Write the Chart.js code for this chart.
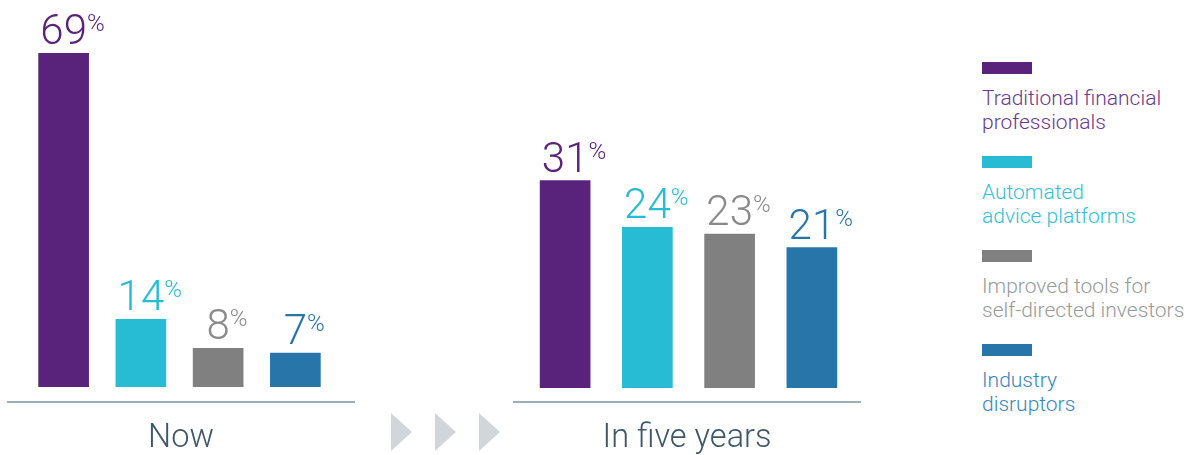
<!DOCTYPE html>
<html lang="en">
<head>
  <meta charset="UTF-8">
  <title>Now vs in five years</title>
  <script src="https://cdn.jsdelivr.net/npm/chart.js"></script>
  <style>
    body {
      margin: 0;
      width: 1190px;
      height: 455px;
      background: #fff;
      font-family: Roboto, "Noto Sans", sans-serif;
      font-weight: 300;
      position: relative;
      overflow: hidden;
    }
    .panel {
      position: absolute;
      top: 0;
      width: 348px;
      height: 455px;
    }
    .baseline {
      position: absolute;
      left: 0;
      right: 0;
      top: 401px;
      border-top: 2px solid #9eadb7;
    }
    .period {
      position: absolute;
      left: 0;
      right: 0;
      top: 417px;
      text-align: center;
      font-size: 32.5px;
      color: #3f5767;
    }
    .arrow {
      position: absolute;
      top: 413px;
      width: 21px;
      height: 38px;
      background: #d1d6db;
      clip-path: polygon(0 0, 100% 50%, 0 100%);
    }
    #legend {
      position: absolute;
      left: 982px;
      top: 62px;
    }
    .item { margin-bottom: 22px; }
    .swatch { width: 50px; height: 12px; margin-bottom: 12px; }
    .text { font-size: 21px; line-height: 24px; width: 210px; }
  </style>
</head>
<body>
  <div class="panel" id="p0" style="left:7px">
    <canvas id="chart-now"></canvas>
    <div class="baseline"></div>
    <div class="period" id="label0"></div>
  </div>
  <div class="arrow" style="left:391px"></div>
  <div class="arrow" style="left:435px"></div>
  <div class="arrow" style="left:479px"></div>
  <div class="panel" id="p1" style="left:513px">
    <canvas id="chart-five"></canvas>
    <div class="baseline"></div>
    <div class="period" id="label1"></div>
  </div>
  <div id="legend"></div>

  <script>
    const categories = ['Traditional financial professionals', 'Automated advice platforms', 'Improved tools for self-directed investors', 'Industry disruptors'];
    const legendLines = [['Traditional financial', 'professionals'], ['Automated', 'advice platforms'], ['Improved tools for', 'self-directed investors'], ['Industry', 'disruptors']];
    const periods = ['Now', 'In five years'];
    const nowValues = [69, 14, 8, 7];
    const fiveYearValues = [31, 24, 23, 21];

    const barColors = ['#5a237b', '#27bbd4', '#808080', '#2876a9'];
    const labelColors = ['#5a237b', '#27bbd4', '#8a8a8a', '#2876a9'];
    const legendColors = ['#6a3a8c', '#33bfd8', '#9a9a9a', '#3a86b9'];

    // percent labels above each bar: big number + small superscript %
    const valueLabels = {
      id: 'valueLabels',
      afterDatasetsDraw(chart) {
        const ctx = chart.ctx;
        const meta = chart.getDatasetMeta(0);
        const data = chart.data.datasets[0].data;
        meta.data.forEach(function(bar, i) {
          const txt = String(data[i]);
          const base = bar.y - 9;
          ctx.save();
          ctx.fillStyle = labelColors[i];
          ctx.font = '300 42px Roboto';
          ctx.textBaseline = 'alphabetic';
          ctx.textAlign = 'center';
          ctx.fillText(txt, bar.x, base);
          const w = ctx.measureText(txt).width;
          ctx.font = '300 24px Roboto';
          ctx.textAlign = 'left';
          ctx.fillText('%', bar.x + w / 2, base - 13);
          ctx.restore();
        });
      }
    };

    function makeChart(id, values, maxY, padding) {
      return new Chart(document.getElementById(id), {
        type: 'bar',
        data: {
          labels: categories,
          datasets: [{
            data: values,
            backgroundColor: barColors,
            borderWidth: 0,
            barThickness: 50
          }]
        },
        options: {
          responsive: true,
          maintainAspectRatio: false,
          animation: false,
          layout: { padding: padding },
          plugins: { legend: { display: false }, tooltip: { enabled: false } },
          scales: {
            x: { display: false },
            y: { display: false, min: 0, max: maxY }
          }
        },
        plugins: [valueLabels]
      });
    }

    document.getElementById('label0').textContent = periods[0];
    document.getElementById('label1').textContent = periods[1];

    makeChart('chart-now', nowValues, 80, { left: 18, right: 21, top: 0, bottom: 68 });
    makeChart('chart-five', fiveYearValues, 58, { left: 11, right: 8, top: 0, bottom: 67 });

    // legend
    const legend = document.getElementById('legend');
    categories.forEach(function(name, i) {
      const item = document.createElement('div');
      item.className = 'item';
      item.title = name;
      item.innerHTML = '<div class="swatch" style="background:' + barColors[i] + '"></div>' +
        '<div class="text" style="color:' + legendColors[i] + '">' + legendLines[i].join('<br>') + '</div>';
      legend.appendChild(item);
    });
  </script>
</body>
</html>
